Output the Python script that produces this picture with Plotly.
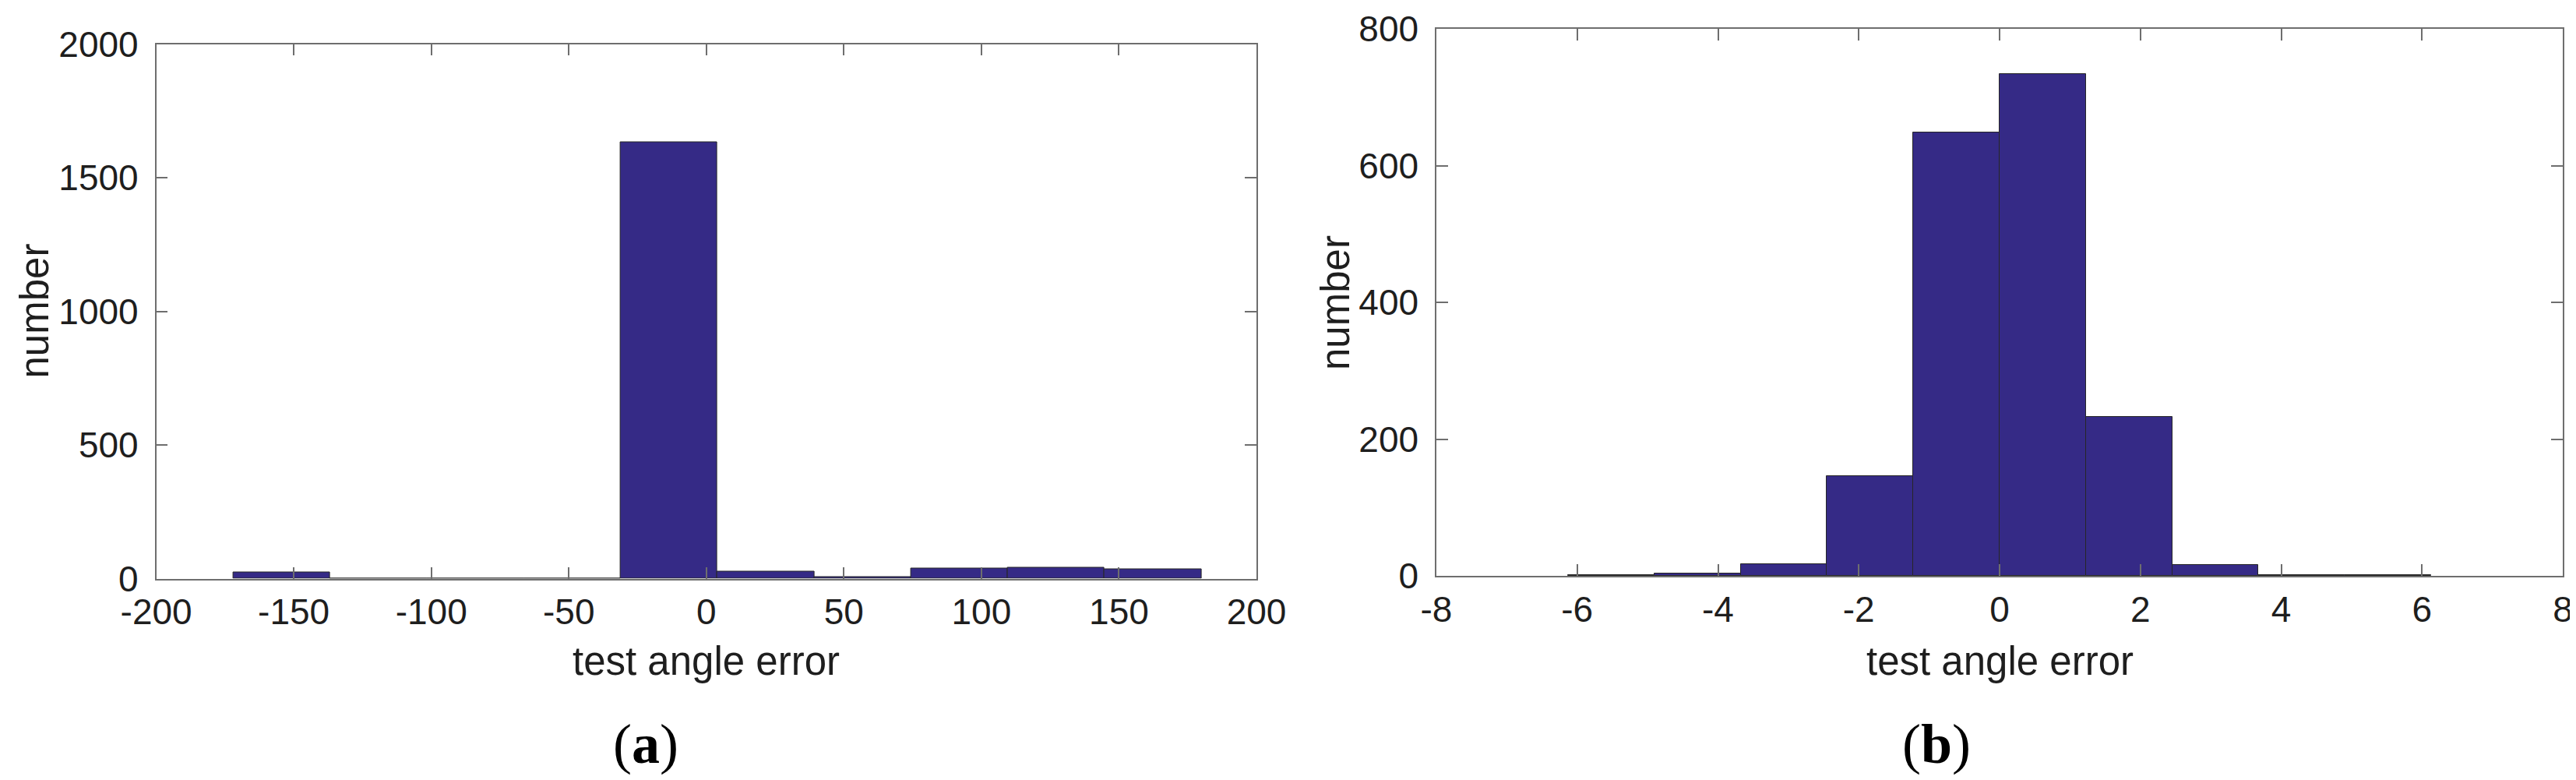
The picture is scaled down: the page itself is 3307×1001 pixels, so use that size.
import plotly.graph_objects as go

# ---- data ----
edges_a = [-172.0, -136.8, -101.6, -66.4, -31.2, 4.0, 39.2, 74.4, 109.6, 144.8, 180.0]
counts_a = [22, 0, 0, 0, 1632, 25, 7, 38, 42, 35]

edges_b = [-6.13, -4.904, -3.678, -2.452, -1.226, 0.0, 1.226, 2.452, 3.678, 4.904, 6.13]
counts_b = [1, 3, 17, 146, 648, 734, 232, 16, 1, 1]

xticks_a = [-200, -150, -100, -50, 0, 50, 100, 150, 200]
yticks_a = [0, 500, 1000, 1500, 2000]
xticks_b = [-8, -6, -4, -2, 0, 2, 4, 6, 8]
yticks_b = [0, 200, 400, 600, 800]

x_title = "test angle error"
y_title = "number"
panel_labels = ["(<b>a</b>)", "(<b>b</b>)"]

BAR = "#352A86"
EDGE = "#262626"
AX = "#6E6E6E"
TXT = "#1E1E1E"
TICKFONT = dict(family="Liberation Sans, Arial, sans-serif", size=46, color=TXT)
TITLEFONT = dict(family="Liberation Sans, Arial, sans-serif", size=51, color=TXT)

W, H = 3307, 1001


def centers(edges):
    return [(edges[i] + edges[i + 1]) / 2 for i in range(len(edges) - 1)]


def widths(edges):
    return [edges[i + 1] - edges[i] for i in range(len(edges) - 1)]


fig = go.Figure()
fig.add_trace(go.Bar(x=centers(edges_a), y=counts_a, width=widths(edges_a),
                     marker=dict(color=BAR, line=dict(color=EDGE, width=1)),
                     xaxis="x", yaxis="y", showlegend=False))
fig.add_trace(go.Bar(x=centers(edges_b), y=counts_b, width=widths(edges_b),
                     marker=dict(color=BAR, line=dict(color=EDGE, width=1)),
                     xaxis="x2", yaxis="y2", showlegend=False))


def axis(domain, rng, ticks, anchor, standoff):
    return dict(domain=domain, range=rng, tickvals=ticks, ticktext=[str(t) for t in ticks],
                anchor=anchor, showline=True, mirror="ticks", linecolor=AX, linewidth=1.5,
                ticks="inside", ticklen=15, tickwidth=1.5, tickcolor=AX, automargin=False,
                showgrid=False, zeroline=False, tickfont=TICKFONT, ticklabelstandoff=standoff)


xa_l, xa_r = 192.6 / W, 1605.0 / W
xb_l, xb_r = 1836.0 / W, 3282.0 / W
ya_b, ya_t = (H - 734.5) / H, (H - 48.5) / H
yb_b, yb_t = (H - 731.1) / H, (H - 29.0) / H

fig.update_layout(
    width=W, height=H, autosize=False,
    margin=dict(l=0, r=0, t=0, b=0),
    paper_bgcolor="white", plot_bgcolor="white",
    bargap=0,
    xaxis=axis([xa_l, xa_r], [-200, 200], xticks_a, "y", 2),
    yaxis=axis([ya_b, ya_t], [0, 2000], yticks_a, "x", 12),
    xaxis2=axis([xb_l, xb_r], [-8, 8], xticks_b, "y2", 2),
    yaxis2=axis([yb_b, yb_t], [0, 800], yticks_b, "x2", 12),
)

ann = []
# x titles
ann.append(dict(text=x_title, x=(xa_l + xa_r) / 2, y=(H - 840) / H, xref="paper", yref="paper",
                showarrow=False, font=TITLEFONT, xanchor="center", yanchor="middle"))
ann.append(dict(text=x_title, x=(xb_l + xb_r) / 2, y=(H - 840) / H, xref="paper", yref="paper",
                showarrow=False, font=TITLEFONT, xanchor="center", yanchor="middle"))
# y titles
ann.append(dict(text=y_title, x=36 / W, y=(ya_b + ya_t) / 2, xref="paper", yref="paper",
                showarrow=False, font=TITLEFONT, textangle=-90, xanchor="center", yanchor="middle"))
ann.append(dict(text=y_title, x=1706 / W, y=(yb_b + yb_t) / 2, xref="paper", yref="paper",
                showarrow=False, font=TITLEFONT, textangle=-90, xanchor="center", yanchor="middle"))
# panel labels
for lab, cx in zip(panel_labels, [821 / W, 2478 / W]):
    ann.append(dict(text=lab, x=cx, y=(H - 947) / H, xref="paper", yref="paper",
                    showarrow=False, xanchor="center", yanchor="middle",
                    font=dict(family="Liberation Serif, Times New Roman, serif", size=72, color="#000000")))
fig.update_layout(annotations=ann)

fig.write_html("out.html")
